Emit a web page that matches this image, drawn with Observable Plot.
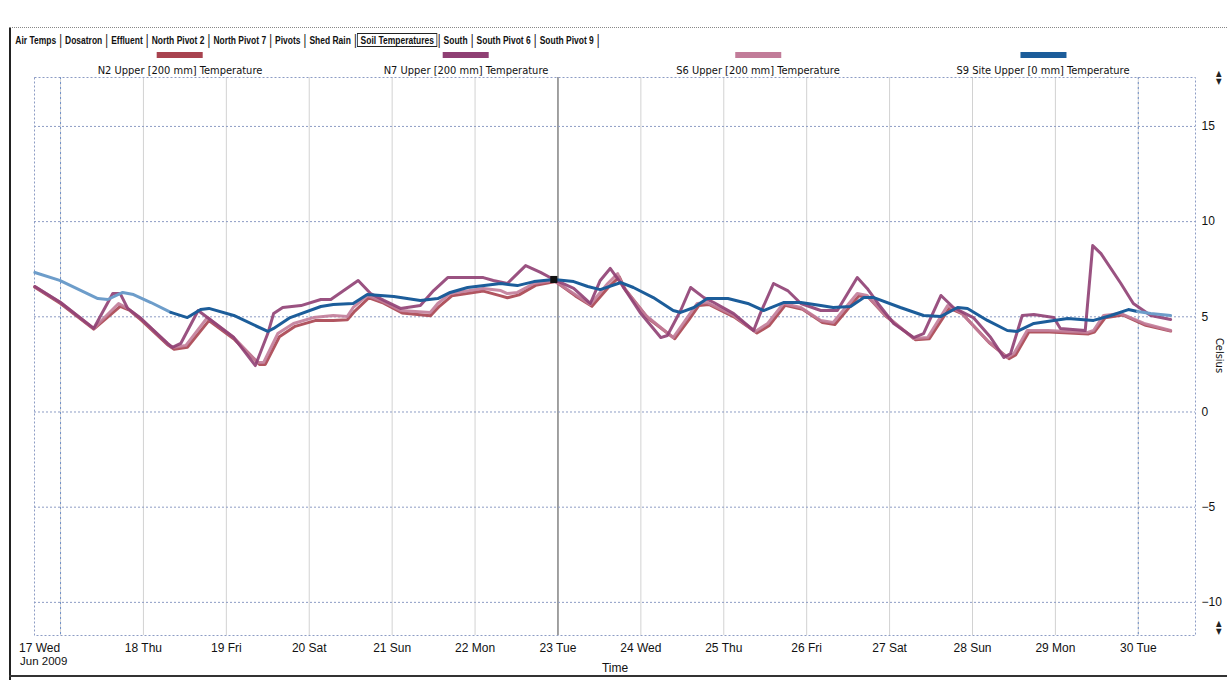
<!DOCTYPE html>
<html>
<head>
<meta charset="utf-8">
<script src="https://cdn.jsdelivr.net/npm/d3@7"></script>
<script src="https://cdn.jsdelivr.net/npm/@observablehq/plot@0.6"></script>
<style>
html, body { margin: 0; padding: 0; background: #fff; }
#wrap { position: relative; width: 1227px; height: 680px; overflow: hidden;
  font-family: "DejaVu Sans Condensed", "Liberation Sans", sans-serif; color: #111; }
#tabs { position: absolute; left: 13px; top: 32px; display: flex; align-items: center;
  font-family: "Liberation Sans", sans-serif; font-size: 11px; font-weight: bold; white-space: nowrap;
  transform: scaleX(0.77); transform-origin: 0 0; }
#tabs span.tab { padding: 0 3px; }
#tabs span.sel { border: 1px solid #222; padding: 0 3px; }
#tabs span.sep { padding: 0 1px; font-weight: normal; font-size: 14px; }
.leg { position: absolute; top: 52px; transform: translateX(-50%); text-align: center; font-size: 11px; white-space: nowrap; }
.leg .sw { width: 46px; height: 6px; margin: 0 auto 6px auto; }
#chart { position: absolute; left: 0; top: 60px; }
#jun { position: absolute; left: 20px; top: 655px; font-size: 11.5px; font-family: "Liberation Sans", sans-serif; }
#cel { position: absolute; left: 1195px; top: 349px; width: 48px; text-align: center; font-size: 11px; transform: rotate(90deg); }
#lborder { position: absolute; left: 9px; top: 28px; width: 2px; height: 652px; background: #222; }
#bborder { position: absolute; left: 9px; top: 675px; width: 1218px; height: 2px; background: #333; }
#tborder { position: absolute; left: 9px; top: 27px; width: 1218px; height: 0; border-top: 1px dotted #888; }
.arr { position: absolute; left: 1216px; font-size: 8px; line-height: 8px; color: #222; }
</style>
</head>
<body>
<div id="wrap">
  <div id="tborder"></div>
  <div id="lborder"></div>
  <div id="bborder"></div>
  <div id="tabs"></div>
  <div id="legend"></div>
  <div id="chart"></div>
  <div id="jun">Jun 2009</div>
  <div id="cel">Celsius</div>
  <div class="arr" style="top:70px">▲<br>▼</div>
  <div class="arr" style="top:620px">▲<br>▼</div>
</div>
<script>
// ---- tabs and legend text ----
const tabNames = ["Air Temps", "Dosatron", "Effluent", "North Pivot 2", "North Pivot 7", "Pivots",
  "Shed Rain", "Soil Temperatures", "South", "South Pivot 6", "South Pivot 9"];
const selectedTab = "Soil Temperatures";
const seriesNames = ["N2 Upper  [200 mm] Temperature", "N7 Upper  [200 mm] Temperature",
  "S6 Upper  [200 mm] Temperature", "S9 Site Upper  [0 mm] Temperature"];
const seriesColors = ["#a8434f", "#8f3f73", "#c27c99", "#1c5d9a"];
const s9LightColor = "#6d9dca";

// ---- axis ticks ----
const yTicks = [-10, -5, 0, 5, 10, 15];
const cursorDay = 23;

// ---- data (day of June 2009, temperature in Celsius) ----
const s9Day = [16.69,16.99,17.45,17.57,17.75,17.88,18.09,18.33,18.53,18.69,18.79,19.09,19.50,19.57,19.77,20.14,20.29,20.53,20.70,21.02,21.34,21.55,21.70,21.91,22.31,22.51,22.71,22.95,23.19,23.36,23.51,23.76,23.91,24.15,24.39,24.48,24.64,24.80,25.05,25.29,25.48,25.72,25.93,26.17,26.32,26.53,26.69,26.81,27.13,27.41,27.62,27.82,27.94,28.18,28.42,28.54,28.74,28.98,29.15,29.46,29.67,29.88,29.99,30.15,30.39];
const s9Temp = [7.33,6.91,5.96,5.91,6.28,6.17,5.75,5.23,4.96,5.38,5.44,5.07,4.23,4.39,4.96,5.54,5.65,5.70,6.17,6.07,5.86,5.96,6.28,6.54,6.75,6.64,6.85,6.96,6.85,6.59,6.43,6.80,6.54,6.01,5.33,5.23,5.49,5.96,5.96,5.70,5.33,5.75,5.75,5.59,5.49,5.54,6.01,6.01,5.49,5.07,5.02,5.49,5.44,4.81,4.28,4.23,4.65,4.81,4.91,4.81,5.07,5.38,5.28,5.17,5.07];

const n7Day = [16.69,17.00,17.40,17.63,17.72,17.81,17.97,18.29,18.35,18.45,18.66,19.09,19.35,19.50,19.57,19.68,19.90,20.14,20.26,20.59,20.74,20.90,21.10,21.34,21.50,21.67,22.10,22.22,22.39,22.61,22.79,22.95,23.19,23.39,23.51,23.63,23.76,24.00,24.24,24.32,24.48,24.60,24.76,24.88,25.12,25.36,25.44,25.60,25.77,25.93,26.17,26.37,26.61,26.73,26.86,27.05,27.29,27.41,27.62,27.77,28.01,28.22,28.38,28.46,28.60,28.74,28.98,29.06,29.36,29.45,29.55,29.79,29.94,30.15,30.39];
const n7Temp = [6.59,5.75,4.39,6.22,6.22,5.44,4.91,3.60,3.39,3.60,5.33,3.91,2.44,4.12,5.17,5.49,5.59,5.91,5.91,6.91,6.22,5.86,5.44,5.59,6.38,7.06,7.06,6.91,6.75,7.69,7.33,6.96,6.49,5.70,6.91,7.54,6.75,5.17,3.91,4.02,5.33,6.54,6.01,5.75,5.17,4.28,5.17,6.75,6.38,5.70,5.33,5.33,7.06,6.49,5.70,4.65,3.91,4.12,6.12,5.49,4.96,3.91,2.86,3.07,5.07,5.12,4.96,4.39,4.28,8.74,8.32,6.75,5.70,5.07,4.86];

const s6Day = [16.69,17.00,17.40,17.70,17.81,17.97,18.29,18.35,18.51,18.77,19.09,19.38,19.45,19.62,19.81,20.05,20.29,20.46,20.53,20.70,20.86,21.10,21.46,21.55,21.70,22.10,22.31,22.39,22.51,22.71,22.95,23.19,23.39,23.60,23.72,23.79,24.06,24.39,24.56,24.68,24.80,25.12,25.38,25.53,25.72,25.93,26.17,26.32,26.61,26.73,26.93,27.29,27.46,27.70,27.86,28.18,28.42,28.50,28.66,28.91,29.39,29.46,29.58,29.79,30.07,30.39];
const s6Temp = [6.59,5.75,4.39,5.70,5.44,4.91,3.60,3.39,3.49,4.96,3.91,2.60,2.60,4.12,4.65,4.96,5.07,5.02,5.49,6.12,5.86,5.33,5.23,5.70,6.22,6.49,6.38,6.22,6.28,6.75,6.91,6.22,5.65,6.75,7.27,6.54,5.07,3.91,4.96,5.70,5.75,5.07,4.23,4.65,5.70,5.49,4.81,4.70,6.22,6.12,5.17,3.86,3.91,5.59,5.23,3.75,2.86,3.07,4.28,4.28,4.18,4.28,5.07,5.17,4.65,4.28];

const n2Day = [16.69,17.00,17.40,17.72,17.83,17.98,18.30,18.37,18.53,18.79,19.10,19.40,19.47,19.64,19.83,20.07,20.29,20.46,20.55,20.72,20.88,21.12,21.46,21.57,21.72,22.10,22.31,22.39,22.53,22.73,22.97,23.21,23.41,23.62,23.74,23.81,24.08,24.41,24.58,24.70,24.82,25.14,25.40,25.55,25.74,25.95,26.19,26.34,26.63,26.75,26.95,27.31,27.48,27.72,27.88,28.20,28.44,28.52,28.68,28.93,29.40,29.47,29.60,29.81,30.09,30.39];
const n2Temp = [6.55,5.70,4.35,5.55,5.35,4.80,3.50,3.30,3.40,4.80,3.80,2.50,2.50,3.95,4.50,4.80,4.80,4.85,5.30,6.00,5.75,5.20,5.05,5.55,6.10,6.35,6.10,6.00,6.15,6.65,6.85,6.10,5.55,6.60,7.10,6.45,4.95,3.85,4.85,5.60,5.65,4.95,4.15,4.55,5.60,5.40,4.70,4.60,6.10,6.00,5.05,3.80,3.85,5.45,5.15,3.65,2.80,3.00,4.20,4.20,4.10,4.20,4.95,5.10,4.55,4.25];

// ---- build ----
const toDate = d => new Date(Date.UTC(2009, 5, 1) + (d - 1) * 864e5);
const rows = (days, temps) => days.map((d, i) => ({t: toDate(d), v: temps[i], d}));

const s9Rows = rows(s9Day, s9Temp);
// style split: lighter before Jun 18 08:00 and after Jun 30 00:00 (as in the reference display)
const lightEnd = 18.33, lightStart = 29.99;
const s9Segments = [];
s9Rows.forEach(r => {
  if (r.d <= lightEnd) s9Segments.push({...r, seg: "a", light: true});
  if (r.d >= lightEnd && r.d <= lightStart) s9Segments.push({...r, seg: "b", light: false});
  if (r.d >= lightStart) s9Segments.push({...r, seg: "c", light: true});
});
const cursorPoint = s9Rows.reduce((a, b) => Math.abs(b.d - cursorDay) < Math.abs(a.d - cursorDay) ? b : a);

// tabs
const tabsEl = document.getElementById("tabs");
tabNames.forEach(n => {
  const s = document.createElement("span");
  s.className = n === selectedTab ? "tab sel" : "tab";
  s.textContent = n;
  tabsEl.appendChild(s);
  const sep = document.createElement("span");
  sep.className = "sep";
  sep.textContent = "|";
  tabsEl.appendChild(sep);
});

// legend
const legendCenters = [180, 466, 758, 1043];
const legEl = document.getElementById("legend");
seriesNames.forEach((n, i) => {
  const d = document.createElement("div");
  d.className = "leg";
  d.style.left = legendCenters[i] + "px";
  d.innerHTML = `<div class="sw" style="background:${seriesColors[i]}"></div>${n}`;
  legEl.appendChild(d);
});

const dayTicks = d3.utcDay.range(toDate(17), toDate(30.5));
const fmt = d3.utcFormat("%-d %a");
const axisFont = '"Liberation Sans", "DejaVu Sans", sans-serif';

const chart = Plot.plot({
  width: 1227,
  height: 620,
  marginLeft: 34,
  marginRight: 32,
  marginTop: 17,
  marginBottom: 45,
  style: {fontFamily: axisFont, fontSize: "12px", color: "#111", background: "transparent"},
  x: {type: "utc", domain: [toDate(16.686), toDate(30.69)], label: null},
  y: {domain: [-11.74, 17.57], label: null},
  marks: [
    Plot.ruleX(dayTicks, {stroke: "#d2d2d2", strokeWidth: 1}),
    Plot.ruleX([toDate(17), toDate(30)], {stroke: "#6f8fc8", strokeDasharray: "2,3", strokeWidth: 1}),
    Plot.ruleX([toDate(cursorDay)], {stroke: "#8a8a8a", strokeWidth: 1.5}),
    Plot.ruleY(yTicks, {stroke: "#8d9cc4", strokeDasharray: "2,2", strokeWidth: 1}),
    Plot.frame({stroke: "#8d9cc4", strokeDasharray: "2,2"}),
    Plot.axisX({ticks: dayTicks.slice(1), tickFormat: fmt, tickSize: 0, tickPadding: 8,
      label: "Time", labelAnchor: "center", labelOffset: 36, labelArrow: "none"}),
    Plot.axisX({ticks: dayTicks.slice(0, 1), tickFormat: fmt, tickSize: 0, tickPadding: 8, dx: -21, label: null}),
    Plot.axisY({anchor: "right", ticks: yTicks, tickSize: 0, tickPadding: 6, label: null, fontSize: 12}),
    Plot.line(rows(n2Day, n2Temp), {x: "t", y: "v", stroke: seriesColors[0], strokeWidth: 3, strokeLinejoin: "round", strokeOpacity: 0.9}),
    Plot.line(rows(s6Day, s6Temp), {x: "t", y: "v", stroke: seriesColors[2], strokeWidth: 3, strokeLinejoin: "round", strokeOpacity: 0.9}),
    Plot.line(rows(n7Day, n7Temp), {x: "t", y: "v", stroke: seriesColors[1], strokeWidth: 3, strokeLinejoin: "round", strokeOpacity: 0.9}),
    Plot.line(s9Segments, {x: "t", y: "v", z: "seg", stroke: d => d.light ? s9LightColor : seriesColors[3], strokeWidth: 3, strokeLinejoin: "round"}),
    Plot.dot([cursorPoint], {x: "t", y: "v", symbol: "square", r: 4, fill: "#111"})
  ]
});
document.getElementById("chart").appendChild(chart);
</script>
</body>
</html>
